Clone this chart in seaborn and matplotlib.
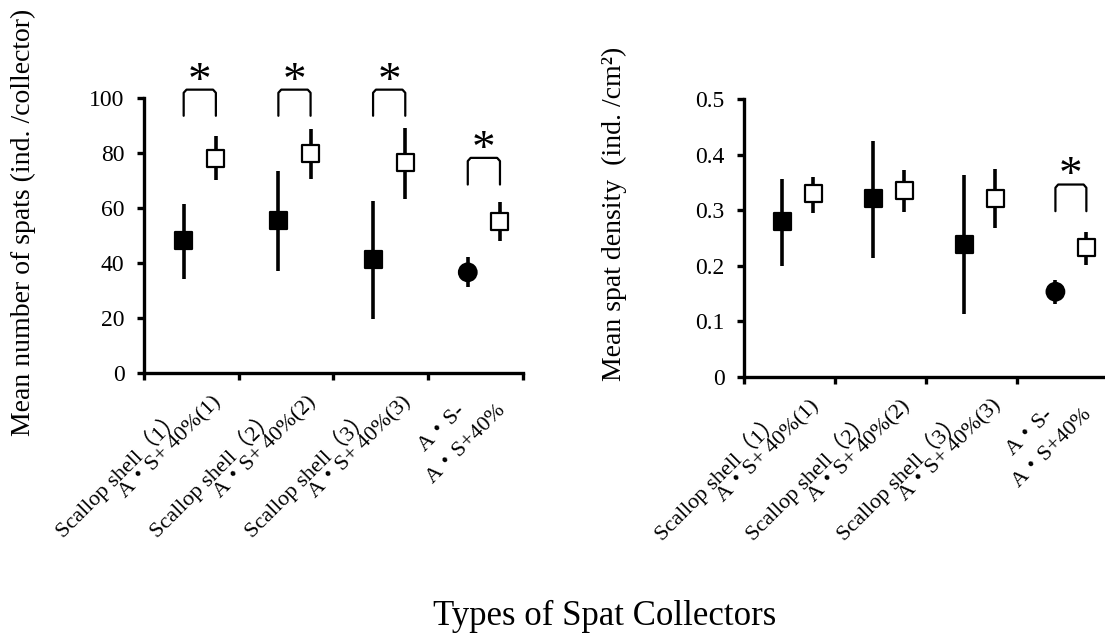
import matplotlib
matplotlib.use("Agg")
import matplotlib.pyplot as plt
import matplotlib.transforms as mtransforms
import numpy as np
import pandas as pd
import seaborn as sns

# ── Data ──────────────────────────────────────────────────────────────────────
shell_labels = ["Scallop shell（1）", "Scallop shell（2）", "Scallop shell（3）", "A・S-"]
as_labels    = ["A・S+ 40%(1)", "A・S+ 40%(2)", "A・S+ 40%(3)", "A・S+40%"]
ref_kind     = ["square", "square", "square", "circle"]

# left panel: mean number of spats per collector (mean, lower, upper)
count_ref_mean = [48.0, 55.4, 41.2, 36.6]
count_ref_lo   = [34.3, 37.2, 19.5, 31.2]
count_ref_hi   = [61.6, 73.4, 62.6, 42.1]
count_as_mean  = [78.0, 79.7, 76.4, 55.2]
count_as_lo    = [70.0, 70.5, 63.4, 48.1]
count_as_hi    = [86.0, 88.7, 89.0, 62.2]
count_sig      = [True, True, True, True]
count_bracket  = [(93.5, 103.0), (93.5, 103.0), (93.5, 103.0), (68.5, 78.2)]

# right panel: mean spat density (ind./cm2)
dens_ref_mean = [0.279, 0.320, 0.238, 0.153]
dens_ref_lo   = [0.199, 0.214, 0.112, 0.130]
dens_ref_hi   = [0.356, 0.425, 0.363, 0.175]
dens_as_mean  = [0.329, 0.335, 0.321, 0.232]
dens_as_lo    = [0.294, 0.297, 0.267, 0.202]
dens_as_hi    = [0.360, 0.373, 0.374, 0.261]
dens_sig      = [False, False, False, True]
dens_bracket  = [None, None, None, (0.298, 0.346)]

# ── Style ─────────────────────────────────────────────────────────────────────
sns.set_theme(style="ticks")
FAM = ["Liberation Serif", "Noto Sans CJK JP", "DejaVu Sans"]
plt.rcParams["font.family"] = FAM
plt.rcParams["text.color"] = "black"
plt.rcParams["axes.labelcolor"] = "black"
plt.rcParams["xtick.color"] = "black"
plt.rcParams["ytick.color"] = "black"
plt.rcParams["axes.edgecolor"] = "black"

OFF_REF, OFF_AS = 0.42, 0.76
TICK_FS = 17
CAT_FS = 16
LABEL_FS = 20


def make_frame(rm, rlo, rhi, am, alo, ahi):
    n = len(rm)
    g = np.arange(n)
    ref = pd.DataFrame({"x": g + OFF_REF, "mean": rm, "lo": rlo, "hi": rhi,
                        "kind": ref_kind})
    asd = pd.DataFrame({"x": g + OFF_AS, "mean": am, "lo": alo, "hi": ahi,
                        "kind": ["open"] * n})
    return pd.concat([ref, asd], ignore_index=True)


def draw_panel(ax, df, sig, brackets, yticks, ylabels, ymax):
    ax.vlines(df["x"], df["lo"], df["hi"], color="black", lw=2.6, zorder=2)
    sns.scatterplot(data=df, x="x", y="mean", hue="kind", style="kind",
                    palette={"square": "black", "circle": "black", "open": "white"},
                    markers={"square": "s", "circle": "o", "open": "s"},
                    size="kind", sizes={"square": 150, "circle": 160, "open": 150},
                    edgecolor="black", linewidth=1.6, legend=False,
                    zorder=3, ax=ax)
    ax.set_xlim(0, 4)
    ax.set_ylim(0, ymax)
    ax.set_xticks(np.arange(5))
    ax.set_xticklabels([])
    ax.set_yticks(yticks)
    ax.set_yticklabels(ylabels, fontsize=TICK_FS)
    ax.set_xlabel("")
    ax.set_ylabel("")
    for s in ["top", "right"]:
        ax.spines[s].set_visible(False)
    for s in ["left", "bottom"]:
        ax.spines[s].set_linewidth(2.4)
    ax.tick_params(axis="both", direction="out", length=5, width=2.4, pad=9)
    ax.patch.set_alpha(0)

    # significance brackets + stars
    star_tr = mtransforms.offset_copy(ax.transData, fig=ax.figure, y=-10, units="points")
    for g, (flag, br) in enumerate(zip(sig, brackets)):
        if not flag:
            continue
        bot, top = br
        x0, x1 = g + OFF_REF, g + OFF_AS
        d = (top - bot) * 0.12
        e = 0.03
        ax.plot([x0, x0, x0 + e, x1 - e, x1, x1],
                [bot, top - d, top, top, top - d, bot],
                color="black", lw=1.6, clip_on=False, solid_joinstyle="round")
        ax.text((x0 + x1) / 2, top, "*", fontsize=34, ha="center", va="bottom",
                transform=star_tr, family=FAM)

    # category labels, two per group, rotated
    for g in range(4):
        last = g == 3
        ax.annotate(shell_labels[g], xy=(g + (0.37 if last else 0.36), 0),
                    xycoords=("data", "axes fraction"),
                    xytext=(0, -(25 if last else 29)), textcoords="offset points",
                    rotation=45, rotation_mode="anchor", ha="right", va="center",
                    fontsize=CAT_FS, family=FAM, annotation_clip=False)
        ax.annotate(as_labels[g], xy=(g + 0.79, 0),
                    xycoords=("data", "axes fraction"),
                    xytext=(0, -(24.5 if last else 19)), textcoords="offset points",
                    rotation=45, rotation_mode="anchor", ha="right", va="center",
                    fontsize=CAT_FS, family=FAM, annotation_clip=False)


W, H = 1105, 637
fig = plt.figure(figsize=(W / 100, H / 100), dpi=100)
ax1 = fig.add_axes([143.9 / W, (H - 373) / H, 378.8 / W, 275.1 / H])
ax2 = fig.add_axes([744.2 / W, (H - 376.7) / H, 364 / W, 277.7 / H])

df_count = make_frame(count_ref_mean, count_ref_lo, count_ref_hi,
                      count_as_mean, count_as_lo, count_as_hi)
df_dens = make_frame(dens_ref_mean, dens_ref_lo, dens_ref_hi,
                     dens_as_mean, dens_as_lo, dens_as_hi)

draw_panel(ax1, df_count, count_sig, count_bracket,
           [0, 20, 40, 60, 80, 100], ["0", "20", "40", "60", "80", "100"], 100)
draw_panel(ax2, df_dens, dens_sig, dens_bracket,
           [0, 0.1, 0.2, 0.3, 0.4, 0.5], ["0", "0.1", "0.2", "0.3", "0.4", "0.5"], 0.5)

fig.text(23 / W, 1 - 222 / H, "Mean number of spats (ind. /collector)",
         rotation=90, ha="center", va="center", fontsize=LABEL_FS, family=FAM)
fig.text(614 / W, 1 - 214 / H, "Mean spat density  (ind. /cm²)",
         rotation=90, ha="center", va="center", fontsize=LABEL_FS, family=FAM)
fig.text(605 / W, 1 - 625 / H, "Types of Spat Collectors",
         ha="center", va="baseline", fontsize=25, family=FAM)

fig.savefig("out.png", dpi=100)
